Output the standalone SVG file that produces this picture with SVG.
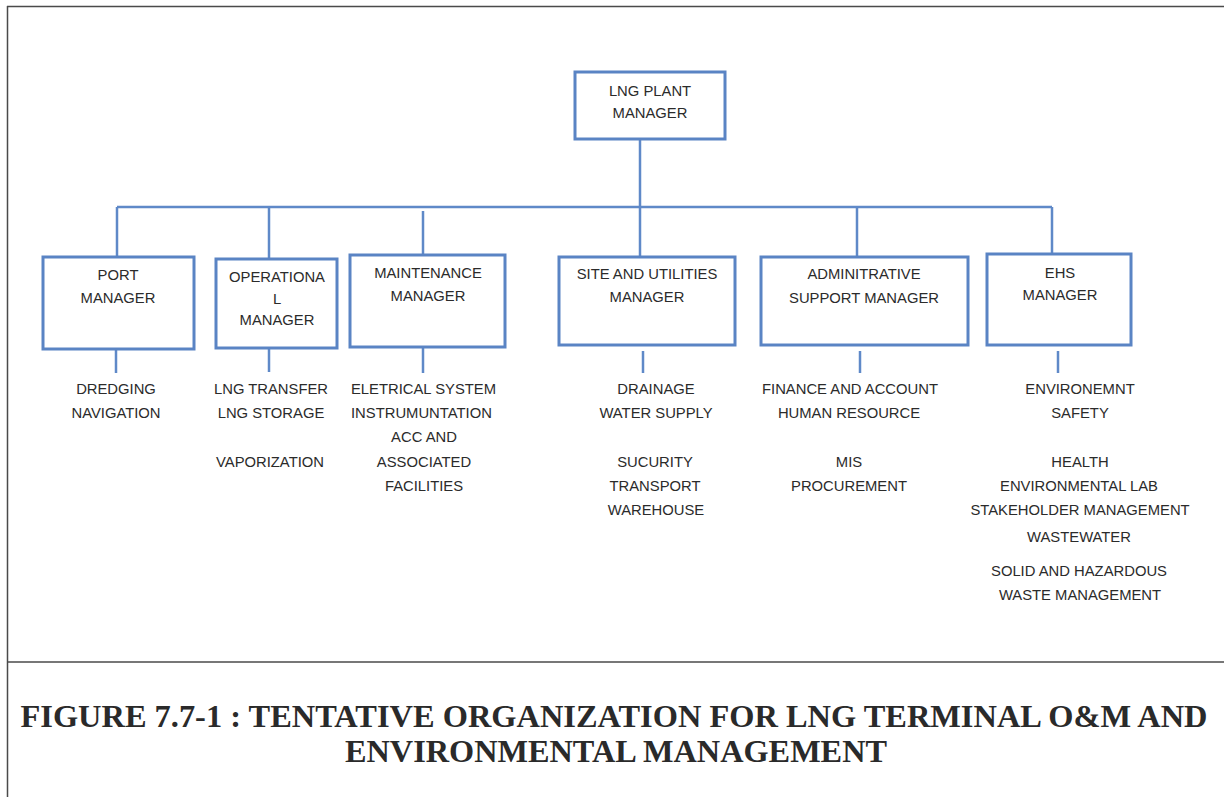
<svg xmlns="http://www.w3.org/2000/svg" width="1224" height="797" viewBox="0 0 1224 797">
  <style>
    .frame { stroke: #4a4a4a; stroke-width: 1.5; fill: none; }
    .box { fill: #ffffff; stroke: #5a84c4; stroke-width: 3; }
    .link { stroke: #5f89c8; stroke-width: 2.5; fill: none; }
    .lbl { font-family: "Liberation Sans", Arial, sans-serif; font-size: 14.8px; fill: #2b2b2b; text-anchor: middle; }
    .lbl-left { text-anchor: start; }
    .title { font-family: "Liberation Serif", "Times New Roman", serif; font-weight: bold; font-size: 32px; fill: #2a2a2a; text-anchor: middle; }
  </style>
  <rect width="1224" height="797" fill="#ffffff"/>

  <!-- page frame -->
  <g id="frame">
    <line class="frame" x1="7" y1="6.5" x2="1224" y2="6.5"/>
    <line class="frame" x1="7.5" y1="6" x2="7.5" y2="797"/>
    <line class="frame" x1="7" y1="662" x2="1224" y2="662"/>
  </g>

  <!-- connectors -->
  <g id="connectors">
    <line class="link" x1="640" y1="139" x2="640" y2="207"/>
    <line class="link" x1="117" y1="207" x2="1052" y2="207"/>
    <line class="link" x1="117" y1="207" x2="117" y2="257"/>
    <line class="link" x1="269" y1="207" x2="269" y2="259"/>
    <line class="link" x1="423" y1="211" x2="423" y2="255"/>
    <line class="link" x1="640" y1="207" x2="640" y2="257"/>
    <line class="link" x1="857" y1="207" x2="857" y2="257"/>
    <line class="link" x1="1052" y1="207" x2="1052" y2="254"/>
    <!-- drops to duty lists -->
    <line class="link" x1="116" y1="350" x2="116" y2="373"/>
    <line class="link" x1="269" y1="349" x2="269" y2="372"/>
    <line class="link" x1="423" y1="348" x2="423" y2="373"/>
    <line class="link" x1="643" y1="351" x2="643" y2="373"/>
    <line class="link" x1="860" y1="351" x2="860" y2="373"/>
    <line class="link" x1="1058" y1="351" x2="1058" y2="373"/>
  </g>

  <g id="plant-manager">
    <rect class="box" x="575" y="72" width="150" height="67"/>
    <text class="lbl" x="650" y="96">LNG PLANT</text>
    <text class="lbl" x="650" y="118">MANAGER</text>
  </g>

  <g id="port-manager">
    <rect class="box" x="43" y="257" width="151" height="92"/>
    <text class="lbl" x="118" y="280">PORT</text>
    <text class="lbl" x="118" y="303">MANAGER</text>
  </g>

  <g id="operational-manager">
    <rect class="box" x="216" y="259" width="121" height="89"/>
    <text class="lbl" x="277" y="282">OPERATIONA</text>
    <text class="lbl" x="277" y="304">L</text>
    <text class="lbl" x="277" y="325">MANAGER</text>
  </g>

  <g id="maintenance-manager">
    <rect class="box" x="350" y="255" width="155" height="92"/>
    <text class="lbl" x="428" y="278">MAINTENANCE</text>
    <text class="lbl" x="428" y="301">MANAGER</text>
  </g>

  <g id="site-manager">
    <rect class="box" x="559" y="257" width="176" height="88"/>
    <text class="lbl" x="647" y="279">SITE AND UTILITIES</text>
    <text class="lbl" x="647" y="302">MANAGER</text>
  </g>

  <g id="admin-manager">
    <rect class="box" x="761" y="257" width="207" height="88"/>
    <text class="lbl" x="864" y="279">ADMINITRATIVE</text>
    <text class="lbl" x="864" y="303">SUPPORT MANAGER</text>
  </g>

  <g id="ehs-manager">
    <rect class="box" x="987" y="254" width="144" height="91"/>
    <text class="lbl" x="1060" y="278">EHS</text>
    <text class="lbl" x="1060" y="300">MANAGER</text>
  </g>

  <!-- duty lists under each manager -->
  <g id="port-duties">
    <text class="lbl" x="116" y="394">DREDGING</text>
    <text class="lbl" x="116" y="418">NAVIGATION</text>
  </g>
  <g id="operational-duties">
    <text class="lbl" x="271" y="394">LNG TRANSFER</text>
    <text class="lbl" x="271" y="418">LNG STORAGE</text>
    <text class="lbl" x="270" y="467">VAPORIZATION</text>
  </g>
  <g id="maintenance-duties">
    <text class="lbl lbl-left" x="351" y="394">ELETRICAL SYSTEM</text>
    <text class="lbl lbl-left" x="351" y="418">INSTRUMUNTATION</text>
    <text class="lbl" x="424" y="442">ACC AND</text>
    <text class="lbl" x="424" y="467">ASSOCIATED</text>
    <text class="lbl" x="424" y="491">FACILITIES</text>
  </g>
  <g id="site-duties">
    <text class="lbl" x="656" y="394">DRAINAGE</text>
    <text class="lbl" x="656" y="418">WATER SUPPLY</text>
    <text class="lbl" x="655" y="467">SUCURITY</text>
    <text class="lbl" x="655" y="491">TRANSPORT</text>
    <text class="lbl" x="656" y="515">WAREHOUSE</text>
  </g>
  <g id="admin-duties">
    <text class="lbl" x="850" y="394">FINANCE AND ACCOUNT</text>
    <text class="lbl" x="849" y="418">HUMAN RESOURCE</text>
    <text class="lbl" x="849" y="467">MIS</text>
    <text class="lbl" x="849" y="491">PROCUREMENT</text>
  </g>
  <g id="ehs-duties">
    <text class="lbl" x="1080" y="394">ENVIRONEMNT</text>
    <text class="lbl" x="1080" y="418">SAFETY</text>
    <text class="lbl" x="1080" y="467">HEALTH</text>
    <text class="lbl" x="1079" y="491">ENVIRONMENTAL LAB</text>
    <text class="lbl" x="1080" y="515">STAKEHOLDER MANAGEMENT</text>
    <text class="lbl" x="1079" y="542">WASTEWATER</text>
    <text class="lbl" x="1079" y="576">SOLID AND HAZARDOUS</text>
    <text class="lbl" x="1080" y="600">WASTE MANAGEMENT</text>
  </g>

  <g id="caption">
    <text class="title" x="614" y="727" textLength="1187" lengthAdjust="spacingAndGlyphs">FIGURE 7.7-1 : TENTATIVE ORGANIZATION FOR LNG TERMINAL O&amp;M AND</text>
    <text class="title" x="616" y="762" textLength="542" lengthAdjust="spacingAndGlyphs">ENVIRONMENTAL MANAGEMENT</text>
  </g>
</svg>
